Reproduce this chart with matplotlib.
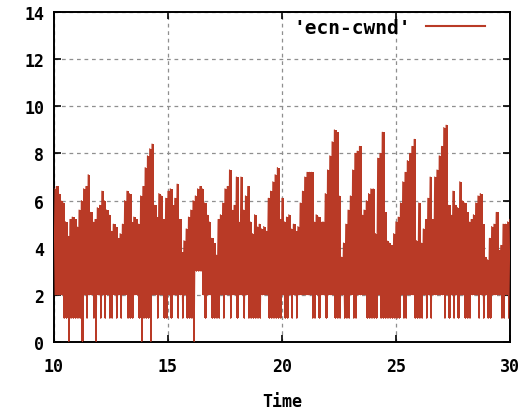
import numpy as np
import matplotlib
matplotlib.use("Agg")
import matplotlib.pyplot as plt

# cwnd upper envelope, one value every 0.1 s from t=10.0 to t=30.0
t_start = 10.0
t_step = 0.1
cwnd_high = [
    6.5, 6.6, 6.3, 6.0, 5.9, 5.1, 4.5, 5.2, 5.3, 5.2,   # 10.x
    4.9, 5.6, 6.0, 6.5, 6.6, 7.1, 5.5, 5.1, 5.2, 5.7,   # 11.x
    5.8, 6.4, 6.0, 5.6, 5.4, 4.7, 5.0, 4.9, 4.4, 4.6,   # 12.x
    5.0, 6.0, 6.4, 6.3, 5.1, 5.3, 5.2, 5.0, 6.2, 6.6,   # 13.x
    7.4, 7.9, 8.2, 8.4, 5.8, 5.3, 6.3, 6.2, 5.2, 6.1,   # 14.x
    6.4, 6.5, 5.8, 6.1, 6.7, 5.2, 3.8, 4.3, 4.8, 5.3,   # 15.x
    5.6, 6.0, 6.2, 6.5, 6.6, 6.5, 5.9, 5.4, 5.1, 4.4,   # 16.x
    4.2, 3.7, 5.2, 5.4, 5.9, 6.5, 6.6, 7.3, 5.6, 5.8,   # 17.x
    7.0, 5.1, 7.0, 5.6, 6.2, 6.6, 5.1, 4.6, 5.4, 4.9,   # 18.x
    5.0, 4.8, 4.9, 4.7, 6.1, 6.4, 6.8, 7.1, 7.4, 5.2,   # 19.x
    6.1, 5.1, 5.3, 5.4, 4.8, 5.0, 4.7, 4.9, 5.9, 6.4,   # 20.x
    7.0, 7.2, 7.2, 7.2, 5.1, 5.4, 5.3, 5.1, 5.1, 6.3,   # 21.x
    7.3, 7.9, 8.5, 9.0, 8.9, 6.2, 3.6, 4.2, 5.0, 5.6,   # 22.x
    6.2, 7.3, 8.0, 8.1, 8.3, 5.4, 5.6, 6.0, 6.3, 6.5,   # 23.x
    6.5, 4.6, 7.8, 8.0, 8.9, 5.5, 4.3, 4.2, 4.1, 4.6,   # 24.x
    5.1, 5.3, 5.9, 6.8, 7.2, 7.7, 8.0, 8.3, 8.6, 4.3,   # 25.x
    5.9, 4.2, 4.8, 5.2, 6.1, 7.0, 5.2, 7.0, 7.3, 7.9,   # 26.x
    8.3, 9.1, 9.2, 5.8, 5.4, 6.4, 5.8, 5.7, 6.8, 6.0,   # 27.x
    5.9, 5.5, 5.1, 5.2, 5.4, 5.9, 6.2, 6.3, 5.0, 3.6,   # 28.x
    3.5, 4.4, 4.9, 5.0, 5.5, 3.9, 4.1, 5.0, 5.0, 5.1,   # 29.x
    5.2,                                                # 30.0
]

# cwnd after each drop (between two envelope samples)
cwnd_low = [
    2, 2, 2, 2, 1, 1, 0, 1, 1, 1,   # 10.x
    1, 1, 0, 2, 1, 2, 2, 1, 0, 2,   # 11.x
    1, 2, 1, 2, 1, 1, 2, 1, 2, 1,   # 12.x
    2, 2, 1, 1, 1, 2, 2, 1, 0, 1,   # 13.x
    1, 1, 0, 2, 2, 1, 2, 2, 1, 1,   # 14.x
    2, 1, 2, 2, 1, 2, 1, 2, 1, 1,   # 15.x
    1, 0, 3, 3, 3, 2, 1, 2, 2, 1,   # 16.x
    1, 1, 1, 2, 1, 2, 2, 1, 2, 2,   # 17.x
    1, 2, 2, 1, 2, 1, 1, 1, 1, 1,   # 18.x
    1, 2, 2, 2, 1, 1, 1, 1, 1, 1,   # 19.x
    2, 1, 1, 2, 1, 2, 1, 2, 2, 2,   # 20.x
    2, 2, 2, 1, 1, 2, 1, 2, 2, 1,   # 21.x
    2, 2, 2, 1, 1, 1, 2, 1, 1, 1,   # 22.x
    2, 1, 1, 2, 2, 2, 2, 1, 1, 1,   # 23.x
    1, 1, 2, 1, 1, 1, 1, 1, 1, 1,   # 24.x
    1, 1, 2, 1, 1, 2, 2, 2, 1, 1,   # 25.x
    1, 1, 2, 1, 2, 1, 2, 2, 2, 2,   # 26.x
    2, 1, 2, 1, 2, 1, 2, 1, 2, 2,   # 27.x
    1, 1, 1, 2, 2, 2, 1, 2, 1, 2,   # 28.x
    1, 1, 2, 2, 2, 2, 1, 1, 2, 1,   # 29.x
]

x_ticks = [10, 15, 20, 25, 30]
y_ticks = [0, 2, 4, 6, 8, 10, 12, 14]
red = "#b93a26"

# 交替排列：峰值 -> 回落
t_high = t_start + t_step * np.arange(len(cwnd_high))
t_low = t_high[:-1] + t_step / 2
t_all = np.empty(len(cwnd_high) + len(cwnd_low))
v_all = np.empty(len(t_all))
t_all[0::2] = t_high
v_all[0::2] = cwnd_high
t_all[1::2] = t_low
v_all[1::2] = cwnd_low

mono = {"family": "DejaVu Sans Mono", "weight": "bold", "size": 12}

fig = plt.figure(figsize=(5.32, 4.14), dpi=100)
ax = fig.add_axes([0.1015, 0.1715, 0.857, 0.797])

# 每个0.1s区间内，窗口在回落值和峰值之间来回振荡 -> 填充
low_edge = np.append(cwnd_low, cwnd_low[-1])
ax.fill_between(t_high, low_edge, cwnd_high, step="post", color=red, lw=0, zorder=2)
ax.plot(t_all, v_all, color=red, lw=0.8, label="'ecn-cwnd'", zorder=3)

ax.set_xlim(10, 30)
ax.set_ylim(0, 14)
ax.set_xticks(x_ticks)
ax.set_yticks(y_ticks)
ax.set_xticklabels([str(v) for v in x_ticks], fontdict=mono)
ax.set_yticklabels([str(v) for v in y_ticks], fontdict=mono)
ax.tick_params(axis="x", pad=11)
ax.tick_params(direction="in", length=5, width=1.2, top=True, right=True)
ax.tick_params(axis="y", pad=7)
ax.grid(True, color="#8f8f8f", linestyle=(0, (3, 3)), lw=0.9, zorder=0)
ax.set_axisbelow(True)
for s in ax.spines.values():
    s.set_linewidth(1.4)
ax.set_xlabel("Time", fontdict=mono, labelpad=12)

leg = ax.legend(loc="upper right", bbox_to_anchor=(0.983, 1.035), frameon=False,
                markerfirst=False, handlelength=3.0, handletextpad=0.77,
                prop={"family": "DejaVu Sans Mono", "weight": "bold", "size": 14})
leg.get_lines()[0].set_linewidth(1.5)

fig.savefig("out.png", dpi=100)
